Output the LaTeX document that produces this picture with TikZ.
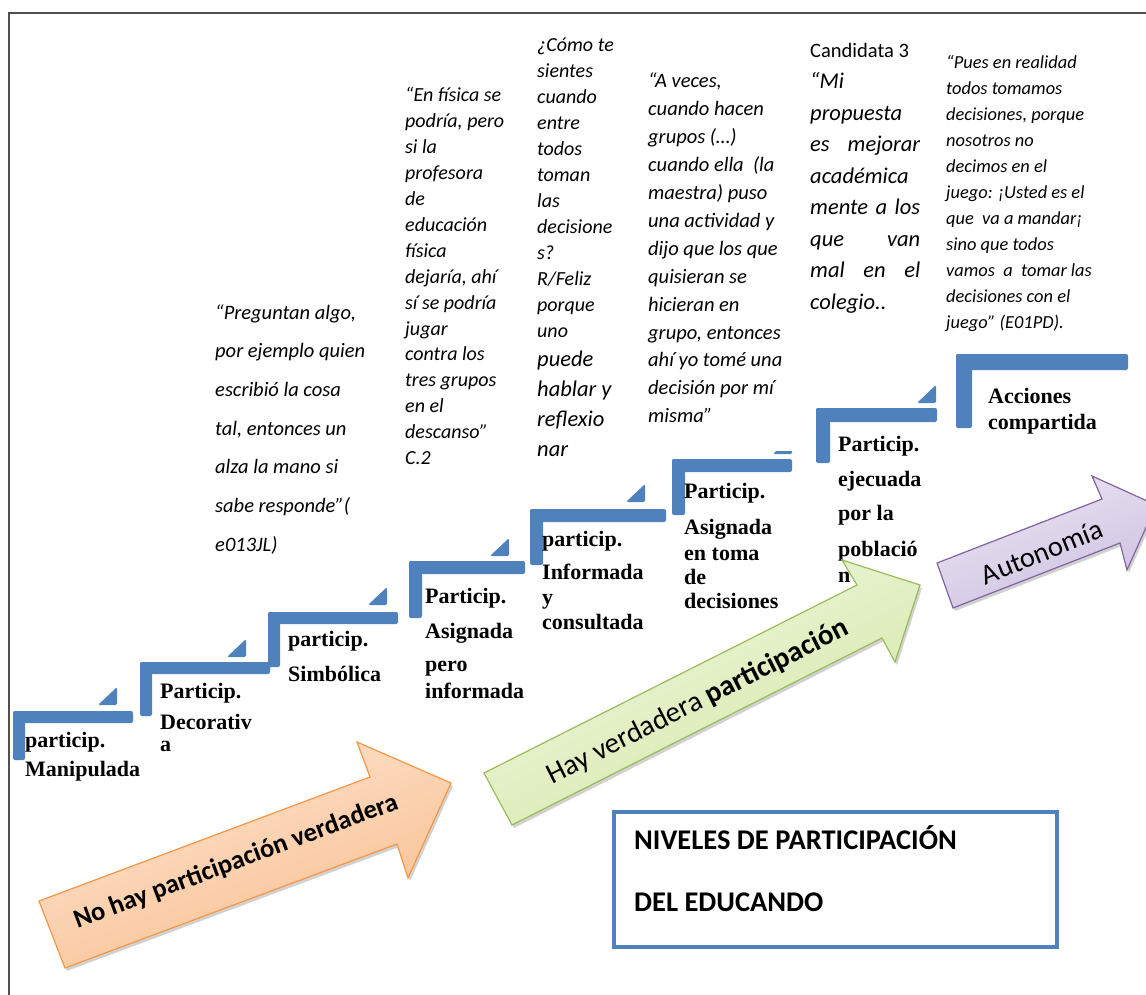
\documentclass[tikz,border=0pt]{standalone}
\usepackage{fontspec}
\setmainfont{Carlito}
\newfontfamily\lblfont{Liberation Serif}
\usetikzlibrary{shadows}
\definecolor{stepblue}{HTML}{4F81BD}
\definecolor{framegray}{HTML}{505050}
\definecolor{orgtop}{HTML}{FDE4D0}
\definecolor{orgbot}{HTML}{F9BF8F}
\definecolor{orgline}{HTML}{F79646}
\definecolor{grntop}{HTML}{F0F7E1}
\definecolor{grnbot}{HTML}{D4E7A7}
\definecolor{grnline}{HTML}{9BBB59}
\definecolor{purtop}{HTML}{ECE6F3}
\definecolor{purbot}{HTML}{CDBFE0}
\definecolor{purline}{HTML}{8064A2}
\newcommand{\Lines}[2]{\vtop{\baselineskip=#1\relax\lineskiplimit=-100pt\lineskip=0pt #2}}
\newcommand{\ql}[1]{\hbox{#1}}
\newcommand{\qs}[2]{\vskip#1\relax\hbox{#2}}
\newcommand{\qj}[1]{\hbox to 110pt{#1}}
\tikzset{
  stepbar/.style={fill=stepblue, rounded corners=2pt},
  lbl/.style={anchor=base west, inner sep=0pt, font=\lblfont\bfseries\fontsize{22}{26}\selectfont},
  quote/.style={anchor=base west, inner sep=0pt, font=\itshape\fontsize{20}{24}\selectfont},
  bigarrow/.style={line width=1.2pt, drop shadow={shadow xshift=2pt, shadow yshift=-3pt, opacity=.3, fill=black!60}},
  arrowtxt/.style={inner sep=0pt, anchor=center},
}
\begin{document}
\begin{tikzpicture}[x=1pt,y=-1pt]
\useasboundingbox (0,0) rectangle (1146,995);
\clip (0,0) rectangle (1146,995);
% frame
\draw[framegray, line width=1.5pt] (9,995) -- (9,13) -- (1146,13);
% steps
\foreach \sx/\sy/\ex/\by/\t in {13/711/133/760/12, 140/662/270/716/12, 268/612/398/667/12,
   409/561/525/618/13, 530/509/666/565/13, 672/459/792/515/13, 816/408/937/463/14, 956/354/1128/428/16}{
  \fill[stepbar] (\sx,\sy) rectangle (\ex,\sy+\t);
  \fill[stepbar] (\sx,\sy) rectangle (\sx+\t,\by);
}
\foreach \rx/\ry in {117/705, 246/657, 387/605, 509/556, 645/502, 792/454, 936/403}{
  \fill[stepbar, rounded corners=1.5pt] (\rx-19,\ry) -- (\rx,\ry-18) -- (\rx,\ry) -- cycle;
}
% text box backgrounds that hide parts of two tabs
\fill[white] (530,20) rectangle (641,484);
\fill[white] (641,60) rectangle (805,451);
% step labels
\node[lbl] (l1) at (25,747) {\Lines{29pt}{\ql{particip.}\ql{Manipulada}}};
\node[lbl] (l2) at (160,698) {\Lines{31pt}{\ql{Particip.}\ql{Decorativ}\qs{-9pt}{a}}};
\node[lbl] (l3) at (288,646) {\Lines{35pt}{\ql{particip.}\ql{Simbólica}}};
\node[lbl] (l4) at (425,603) {\Lines{35pt}{\ql{Particip.}\ql{Asignada}\qs{-2pt}{pero}\qs{-8pt}{informada}}};
\node[lbl] (l5) at (542,546) {\Lines{33pt}{\ql{particip.}\ql{Informada}\qs{-8pt}{y}\qs{-8pt}{consultada}}};
\node[lbl] (l6) at (684,498) {\Lines{36pt}{\ql{Particip.}\ql{Asignada}\qs{-10pt}{en toma}\qs{-12pt}{de}\qs{-12pt}{decisiones}}};
\node[lbl] (l7) at (838,451) {\Lines{35pt}{\ql{Particip.}\ql{ejecuada}\qs{-1pt}{por la}\qs{1pt}{població}\qs{-9pt}{n}}};
\node[lbl] (l8) at (988,403) {\Lines{26pt}{\ql{Acciones}\ql{compartida}}};
% quotes
\node[quote, font=\itshape\fontsize{20.5}{24}\selectfont] (q1) at (215,319) {\Lines{38.7pt}{%
  \ql{“Preguntan algo,}\ql{por ejemplo quien}\ql{escribió la cosa}\ql{tal, entonces un}%
  \ql{alza la mano si}\ql{sabe responde”(}\ql{e013JL)}}};
\node[quote] (q2) at (405,102) {\Lines{25.9pt}{%
  \ql{“En física se}\ql{podría, pero}\ql{si la}\ql{profesora}\ql{de}\ql{educación}\ql{física}%
  \ql{dejaría, ahí}\ql{sí se podría}\ql{jugar}\ql{contra los}\ql{tres grupos}\ql{en el}%
  \ql{descanso”}\ql{C.2}}};
\node[quote] (q3) at (537,52) {\Lines{26pt}{%
  \ql{¿Cómo te}\ql{sientes}\ql{cuando}\ql{entre}\ql{todos}\ql{toman}\ql{las}\ql{decisione}%
  \ql{s?}\ql{R/Feliz}\ql{porque}\ql{uno}%
  \qs{3pt}{\fontsize{22.5}{26}\selectfont puede}\qs{4pt}{\fontsize{22.5}{26}\selectfont hablar y}%
  \qs{4pt}{\fontsize{22.5}{26}\selectfont reflexio}\qs{4pt}{\fontsize{22.5}{26}\selectfont nar}}};
\node[quote, font=\itshape\fontsize{20.5}{24}\selectfont] (q4) at (648,88) {\Lines{27.9pt}{%
  \ql{“A veces,}\ql{cuando hacen}\ql{grupos (…)}\ql{cuando ella\ \ (la}\ql{maestra) puso}%
  \ql{una actividad y}\ql{dijo que los que}\ql{quisieran se}\ql{hicieran en}%
  \ql{grupo, entonces}\ql{ahí yo tomé una}\ql{decisión por mí}\ql{misma”}}};
\node[quote, font=\upshape\fontsize{20.5}{24}\selectfont] (c3) at (810,58) {Candidata 3};
\node[quote, font=\itshape\fontsize{22.5}{26}\selectfont] (q5) at (810,89) {\Lines{31.5pt}{%
  \ql{“Mi}\ql{propuesta}\qj{es\hfill mejorar}\ql{académica}\qj{mente a los}%
  \qj{que\hfill van}\qj{mal\hfill en\hfill el}\ql{colegio..}}};
\begin{scope}
\clip (930,40) rectangle (1146,331);
\node[quote, font=\itshape\fontsize{18.4}{24}\selectfont] (q6) at (946,69) {\Lines{26pt}{%
  \ql{“Pues en realidad}\ql{todos tomamos}\ql{decisiones, porque}\ql{nosotros no}%
  \ql{decimos en el}\ql{juego: ¡Usted es el}\ql{que\ \ va a mandar¡}\ql{sino que todos}%
  \ql{vamos\ \ a\ \ tomar las}\ql{decisiones con el}\ql{juego” (E01PD).}}};
\end{scope}
% big arrows
\path[bigarrow, draw=orgline, top color=orgtop, bottom color=orgbot, shading angle=20.5]
  (65,968) -- (39,901) -- (370,777) -- (357,742) -- (451,783) -- (408,878) -- (397,844) -- cycle;
\node[arrowtxt, rotate=20.5, font=\bfseries\fontsize{26.5}{30}\selectfont] (nohay) at (236,862)
  {No hay participación verdadera};
\path[bigarrow, draw=grnline, top color=grntop, bottom color=grnbot, shading angle=26.8]
  (512,825) -- (484,773) -- (857,585) -- (842,560) -- (920,585) -- (895,662) -- (882,638) -- cycle;
\node[arrowtxt, rotate=26.8, font=\fontsize{29}{32}\selectfont] (hay) at (698,702)
  {Hay verdadera \textbf{participación}};
\path[bigarrow, draw=purline, top color=purtop, bottom color=purbot, shading angle=21.2]
  (953,608) -- (937,563) -- (1102,499) -- (1092,476) -- (1156,505) -- (1127,570) -- (1120,543) -- cycle;
\node[arrowtxt, rotate=22, font=\fontsize{28.5}{30}\selectfont] (auto) at (1042,552) {Autonomía};
% title box
\node[draw=stepblue, line width=3.5pt, minimum width=443pt, minimum height=135pt,
  anchor=north west, inner sep=0pt] (titlebox) at (612,810) {};
\node[anchor=base west, inner sep=0pt, font=\bfseries\fontsize{28.5}{30}\selectfont] (t1) at (634,849)
  {NIVELES DE PARTICIPACIÓN};
\node[anchor=base west, inner sep=0pt, font=\bfseries\fontsize{28.5}{30}\selectfont] (t2) at (634,911)
  {DEL EDUCANDO};
\end{tikzpicture}
\end{document}
